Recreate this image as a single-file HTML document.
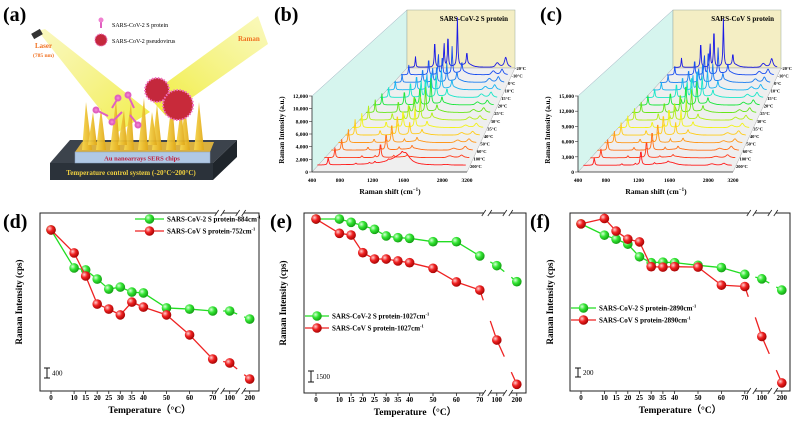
<!DOCTYPE html>
<html><head><meta charset="utf-8"><style>
html,body{margin:0;padding:0;background:#fff;}
svg{display:block;font-family:"Liberation Serif",serif;}
</style></head><body>
<svg id="fig" width="794" height="424" viewBox="0 0 794 424" xmlns="http://www.w3.org/2000/svg">
<defs>
<radialGradient id="gG" cx="0.35" cy="0.35" r="0.7"><stop offset="0" stop-color="#d8ffd8"/><stop offset="0.45" stop-color="#33e633"/><stop offset="1" stop-color="#119911"/></radialGradient>
<radialGradient id="gR" cx="0.35" cy="0.35" r="0.7"><stop offset="0" stop-color="#ffd0d0"/><stop offset="0.45" stop-color="#f02222"/><stop offset="1" stop-color="#a00000"/></radialGradient>
<linearGradient id="beam1" x1="0" y1="0" x2="1" y2="1"><stop offset="0" stop-color="#f4f080" stop-opacity="0.5"/><stop offset="1" stop-color="#f0ec30" stop-opacity="0.9"/></linearGradient>
<linearGradient id="beam2" x1="0" y1="1" x2="1" y2="0"><stop offset="0" stop-color="#eeea20" stop-opacity="0.9"/><stop offset="1" stop-color="#f6f490" stop-opacity="0.6"/></linearGradient>
<linearGradient id="gold" x1="0" y1="0" x2="1" y2="0"><stop offset="0" stop-color="#f8d850"/><stop offset="1" stop-color="#e0a818"/></linearGradient>
</defs>

<g>
<text x="3" y="21" font-size="20" font-weight="bold">(a)</text>
<polygon points="38,31 45,29 150,112 118,132" fill="url(#beam1)"/>
<polygon points="148,96 166,116 268,44 258,16" fill="url(#beam2)"/>
<polygon points="70,140 237,140 213,163 50,163" fill="#3c434c"/>
<polygon points="213,163 237,140 237,157 213,180" fill="#1f252b"/>
<rect x="50" y="163" width="163" height="17" fill="#2b323a"/>
<text x="131" y="175" font-size="7" font-weight="bold" fill="#f0d040" text-anchor="middle">Temperature control system (-20°C~200°C)</text>
<polygon points="82,142 214,142 210,152 75,152" fill="#d9b040"/>
<rect x="75" y="152" width="135" height="11" fill="#b0c8e4" stroke="#8aa0c0" stroke-width="0.5"/>
<text x="142" y="160.5" font-size="6.5" font-weight="bold" fill="#c01a3a" text-anchor="middle">Au nanoarrays SERS chips</text>
<g fill="url(#gold)" opacity="0.95">
<polygon points="82,150 92,150 86,102"/><polygon points="96,150 106,150 101,108"/><polygon points="110,150 120,150 116,100"/><polygon points="124,150 134,150 131,103"/><polygon points="138,150 148,150 144,98"/><polygon points="152,150 162,150 157,104"/><polygon points="166,150 176,150 172,100"/><polygon points="180,150 190,150 185,106"/><polygon points="194,150 204,150 199,102"/>
<polygon points="88,145 97,145 93,112"/><polygon points="118,145 127,145 124,110"/><polygon points="148,145 157,145 152,112"/><polygon points="176,145 185,145 181,108"/>
</g>
<g stroke="#e060c0" stroke-width="2" fill="#f080d0">
<line x1="96" y1="110" x2="108" y2="116"/><circle cx="96" cy="110" r="2.5"/>
<line x1="112" y1="122" x2="122" y2="112"/><circle cx="112" cy="122" r="2.5"/>
<line x1="128" y1="95" x2="134" y2="108"/><circle cx="128" cy="95" r="2.5"/>
<line x1="138" y1="125" x2="130" y2="115"/><circle cx="138" cy="125" r="2.5"/>
<line x1="118" y1="98" x2="112" y2="108"/><circle cx="118" cy="98" r="2.5"/>
</g>
<g>
<circle cx="157" cy="90" r="12" fill="#c4283c" stroke="#f070c0" stroke-width="2" stroke-dasharray="1.5,1.5"/>
<circle cx="178" cy="105" r="15" fill="#c82a3a" stroke="#f070c0" stroke-width="2" stroke-dasharray="1.5,1.5"/>
</g>
<g>
<line x1="101" y1="20" x2="101" y2="28" stroke="#e060c0" stroke-width="2"/><circle cx="101" cy="20" r="2.5" fill="#f080d0"/>
<text x="112" y="27" font-size="6">SARS-CoV-2 S protein</text>
<circle cx="101" cy="40" r="6" fill="#c4283c" stroke="#f070c0" stroke-width="1.2" stroke-dasharray="1,1"/>
<text x="112" y="43" font-size="6">SARS-CoV-2 pseudovirus</text>
</g>
<rect x="32" y="31" width="10" height="6" fill="#333" transform="rotate(-30 37 34)"/>
<text x="35" y="48" font-size="7" font-weight="bold" fill="#f07020">Laser</text>
<text x="33" y="57" font-size="5.5" font-weight="bold" fill="#f07020">(785 nm)</text>
<text x="238" y="41" font-size="7" font-weight="bold" fill="#f07020">Raman</text>
</g>
</svg>
<script>
// ---------- line chart data (d, e, f) ----------
const tempCats = ['0','10','15','20','25','30','35','40','50','60','70','100','200'];
const tempVals = [0,10,15,20,25,30,35,40,50,60,70,100,200];
const dGreen = [5800,4430,4360,4030,3670,3740,3560,3530,2990,2950,2880,2880,2590];
const dRed   = [5800,4970,4140,3130,2950,2740,3200,3020,2740,2020,1150,1010,430];
const eGreen = [22270,22270,21850,21420,20950,20100,19880,19800,19370,19370,17540,16300,14250];
const eRed   = [22270,20440,20220,17960,17150,17150,16900,16680,15960,14210,13180,6780,1110];
const fGreen = [3710,3460,3370,3260,2980,2850,2860,2850,2790,2740,2590,2490,2240];
const fRed   = [3710,3830,3550,3370,3310,2760,2750,2760,2750,2350,2320,1210,180];

// ---------- waterfall data (b, c) ----------
const wfTempLabels = ['200°C','100°C','60°C','50°C','40°C','35°C','30°C','25°C','20°C','15°C','10°C','0°C','-10°C','-20°C'];
const wfXTicks = [400,800,1200,1600,2800,3200];
const bYTicks = [0,2000,4000,6000,8000,10000,12000];
const cYTicks = [0,3000,6000,9000,12000,15000];
const peakPos = [580,960,1130,1200,1380,1560,1600,2850,3050];
const bHeights = [
 [1200,200,200,300,200,300,2000,100,0],
 [1600,300,300,2400,300,300,200,300,400],
 [1800,500,300,2800,400,500,300,300,600],
 [2200,600,400,3200,500,600,300,400,600],
 [2600,800,500,3500,2000,700,300,400,600],
 [2400,1000,600,3000,3200,800,300,400,700],
 [2400,1200,700,2800,3800,900,400,500,700],
 [2200,2000,800,3000,4200,1000,400,500,800],
 [2000,2500,900,3200,4500,1100,400,500,800],
 [1800,2800,3000,3500,3800,1200,400,600,900],
 [1600,2600,2800,3200,3500,1400,500,600,900],
 [1500,2500,2600,3000,3300,1500,500,700,1000],
 [1800,3000,3800,3400,5000,1800,600,700,1000],
 [2000,5000,4500,6000,9000,2200,600,800,1800]
];
const cHeights = [
 [1500,300,300,3000,300,300,600,300,400],
 [1800,400,300,3500,300,400,300,300,600],
 [2200,600,400,4000,500,600,300,400,800],
 [2400,800,500,4200,700,700,300,400,800],
 [2600,1000,600,4500,2500,800,400,500,900],
 [2500,1200,700,4200,3500,900,400,500,900],
 [2500,1500,800,4000,4200,1000,400,600,1000],
 [2300,2200,900,4200,4800,1100,500,600,1000],
 [2100,2800,1000,4500,5000,1200,500,600,1100],
 [1900,3200,3500,4800,4500,1300,500,700,1100],
 [1800,3000,3300,4600,4200,1500,600,700,1200],
 [1700,2900,3100,4400,4000,1600,600,800,1200],
 [2000,3500,4500,5500,6000,2000,700,800,1300],
 [2200,6000,5500,9000,11000,2500,700,900,2000]
];

const NS='http://www.w3.org/2000/svg';
const svg=document.getElementById('fig');
function mk(tag,attrs,parent){const e=document.createElementNS(NS,tag);for(const k in attrs)e.setAttribute(k,attrs[k]);parent.appendChild(e);return e;}
function txt(s,attrs,parent){const e=mk('text',attrs,parent);e.textContent=s;return e;}

// ---------- line panels ----------
const panels=[
 {id:'d',box:[40,213,259,391],x0:51,k:2.31,per:36,green:dGreen,red:dRed,gl:'SARS-CoV-2 S protein-884cm',rl:'SARS-CoV S protein-752cm',lx:135,lx2:158,ly:219,sb:[47,368,378],sbl:'400',ylx:22,plx:3},
 {id:'e',box:[304,213,526,393],x0:316,k:2.34,per:128,green:eGreen,red:eRed,gl:'SARS-CoV-2 S protein-1027cm',rl:'SARS-CoV S protein-1027cm',lx:305,lx2:323,ly:316,sb:[311,371,382],sbl:'1500',ylx:286,plx:270},
 {id:'f',box:[570,213,790,391],x0:581,k:2.34,per:22.2,green:fGreen,red:fRed,gl:'SARS-CoV-2 S protein-2890cm',rl:'SARS-CoV S protein-2890cm',lx:571,lx2:590,ly:308,sb:[578,368,377],sbl:'200',ylx:553,plx:530}
];
panels.forEach(p=>{
 const g=mk('g',{},svg);
 
 
 const [L,T,R,B]=p.box;
 const x70=p.x0+70*p.k;
 const xOf=i=>{const t=tempVals[i];if(t<=70)return p.x0+t*p.k;if(t===100)return x70+17;return x70+37;};
 const yOf=v=>B-v/p.per;
 const brk=[x70+7,x70+28];
 const lab=txt('('+p.id+')',{x:p.plx,y:228,'font-size':20,'font-weight':'bold'},g);
 
 
 const frame=mk('rect',{x:L,y:T,width:R-L,height:B-T,fill:'none',stroke:'#222','stroke-width':1},g);
 
 
 brk.forEach(bx=>{[T,B].forEach(yy=>{
  mk('rect',{x:bx-3,y:yy-2,width:6,height:4,fill:'#fff'},g);
  mk('line',{x1:bx-5,y1:yy+3,x2:bx-1,y2:yy-3,stroke:'#222','stroke-width':0.8},g);
  mk('line',{x1:bx+1,y1:yy+3,x2:bx+5,y2:yy-3,stroke:'#222','stroke-width':0.8},g);
 });});
 tempCats.forEach((c,i)=>{
  const x=xOf(i);
  mk('line',{x1:x,y1:B,x2:x,y2:B+3,stroke:'#222','stroke-width':0.8},g);
  const t=txt(c,{x:x,y:B+9,'font-size':7,'font-weight':'bold','text-anchor':'middle'},g);
  
  
 });
 const xt=txt('Temperature（°C）',{x:(L+R)/2,y:B+22,'font-size':9.5,'font-weight':'bold','text-anchor':'middle'},g);
 
 
 const yt=txt('Raman Intensity (cps)',{x:p.ylx,y:(T+B)/2,'font-size':9,'font-weight':'bold','text-anchor':'middle',transform:'rotate(-90 '+p.ylx+' '+((T+B)/2)+')'},g);
 
 
 const sb=mk('g',{},g);
 
 
 mk('line',{x1:p.sb[0],y1:p.sb[1],x2:p.sb[0],y2:p.sb[2],stroke:'#111','stroke-width':1},sb);
 mk('line',{x1:p.sb[0]-3,y1:p.sb[1],x2:p.sb[0]+3,y2:p.sb[1],stroke:'#111','stroke-width':1},sb);
 mk('line',{x1:p.sb[0]-3,y1:p.sb[2],x2:p.sb[0]+3,y2:p.sb[2],stroke:'#111','stroke-width':1},sb);
 txt(p.sbl,{x:p.sb[0]+5,y:(p.sb[1]+p.sb[2])/2+2.5,'font-size':7},sb);
 [['green',p.green,'#22dd22','url(#gG)'],['red',p.red,'#ee2222','url(#gR)']].forEach(([nm,vals,col,fill])=>{
  const sg=mk('g',{},g);
  
  
  for(let i=0;i<vals.length-1;i++){
   const x1=xOf(i),y1=yOf(vals[i]),x2=xOf(i+1),y2=yOf(vals[i+1]);
   const bx=brk.find(b=>b>x1&&b<x2);
   if(bx===undefined){mk('line',{x1,y1,x2,y2,stroke:col,'stroke-width':1.3},sg);}
   else{
    const yA=y1+(y2-y1)*((bx-3.5-x1)/(x2-x1)),yB=y1+(y2-y1)*((bx+3.5-x1)/(x2-x1));
    mk('line',{x1,y1,x2:bx-3.5,y2:yA,stroke:col,'stroke-width':1.3},sg);
    mk('line',{x1:bx+3.5,y1:yB,x2,y2,stroke:col,'stroke-width':1.3},sg);
   }
  }
  vals.forEach((v,i)=>{
   const c=mk('circle',{cx:xOf(i),cy:yOf(v),r:4.8,fill:fill},sg);
   
   
  });
 });
 [[p.gl,'#22dd22','url(#gG)',0],[p.rl,'#ee2222','url(#gR)',12]].forEach(([label,col,fill,dy],j)=>{
  const lg=mk('g',{},g);
  
  
  const y=p.ly+dy;
  mk('line',{x1:p.lx,y1:y,x2:p.lx2+6,y2:y,stroke:col,'stroke-width':1.3},lg);
  mk('circle',{cx:(p.lx+p.lx2+6)/2,cy:y,r:4.8,fill:fill},lg);
  const t=txt(label,{x:p.lx2+9,y:y+2.5,'font-size':7,'font-weight':'bold'},lg);
  const s=mk('tspan',{'font-size':4.5,dy:-3},t);s.textContent='-1';
 });
});

// ---------- waterfall panels ----------
const wfColors=['#ff1a1a','#ff3a1a','#ff701a','#ff981a','#ffcc1a','#f2f21a','#b4ee1a','#66e61a','#1ae63c','#1ae6c8','#1ab4f0','#1a7cf0','#1a4ef0','#1a1ae6'];
const peakW=[9,9,9,9,10,11,180,50,35];
const knotS=[400,800,1200,1600,2800,3200],knotF=[0,0.18,0.39,0.59,0.84,1.0];
function frac(s){for(let i=0;i<knotS.length-1;i++){if(s<=knotS[i+1])return knotF[i]+(knotF[i+1]-knotF[i])*(s-knotS[i])/(knotS[i+1]-knotS[i]);}return 1;}
function waterfall(id,ox,yTicks,ymax,heights,title){
 const g=mk('g',{},svg);
 
 
 const lab=txt('('+id+')',{x:274+ox,y:21,'font-size':20,'font-weight':'bold'},g);
 
 
 const lw=mk('polygon',{points:`${312+ox},96 ${407+ox},10 ${407+ox},68 ${312+ox},172`,fill:'#d6f5ee',stroke:'#9ab','stroke-width':0.5},g);
 
 
 const bw=mk('rect',{x:407+ox,y:10,width:108,height:58,fill:'#f4eec4',stroke:'#9a9','stroke-width':0.5},g);
 
 
 const fl=mk('polygon',{points:`${312+ox},172 ${467+ox},172 ${515+ox},68 ${407+ox},68`,fill:'#efefef',stroke:'#aaa','stroke-width':0.5},g);
 
 
 const tt=txt(title,{x:508+ox,y:21,'font-size':7,'font-weight':'bold','text-anchor':'end'},g);
 
 
 mk('line',{x1:312+ox,y1:96,x2:312+ox,y2:172,stroke:'#333','stroke-width':0.8},g);
 mk('line',{x1:312+ox,y1:172,x2:467+ox,y2:172,stroke:'#333','stroke-width':0.8},g);
 yTicks.forEach(v=>{
  const y=172-76*v/ymax;
  mk('line',{x1:309+ox,y1:y,x2:312+ox,y2:y,stroke:'#333','stroke-width':0.6},g);
  const t=txt(v.toLocaleString('en-US'),{x:308+ox,y:y+2,'font-size':5.5,'font-weight':'bold','text-anchor':'end'},g);
  
  
 });
 wfXTicks.forEach(s=>{
  const x=312+ox+155*frac(s);
  const t=txt(String(s),{x:x,y:182,'font-size':5.5,'font-weight':'bold','text-anchor':'middle'},g);
  
  
 });
 const xt=txt('Raman shift (cm',{x:390+ox,y:194,'font-size':7.5,'font-weight':'bold','text-anchor':'middle'},g);
 const sp=mk('tspan',{'font-size':5,dy:-3},xt);sp.textContent='−1';
 const sp2=mk('tspan',{dy:3},xt);sp2.textContent=')';
 
 
 const yt=txt('Raman Intensity (a.u.)',{x:284+ox,y:130,'font-size':7,'font-weight':'bold','text-anchor':'middle',transform:`rotate(-90 ${284+ox} 130)`},g);
 
 
 for(let i=heights.length-1;i>=0;i--){
  const t=i/13,yb=166-98*t,xl=316+ox+91*t,xr=467+ox+45*t,hs=(76/ymax)*(1-0.15*t);
  let d='';
  for(let s=420;s<=3180;s+=8){
   let v=120;
   heights[i].forEach((h,k)=>{const w=peakW[k];v+=h/(1+((s-peakPos[k])/w)**2);});
   const x=xl+(xr-xl)*frac(s),y=yb-v*hs;
   d+=(d?'L':'M')+x.toFixed(1)+','+y.toFixed(1);
  }
  const path=mk('path',{d:d,fill:'none',stroke:wfColors[i],'stroke-width':0.9},g);
  
  
  const tl=txt(wfTempLabels[i],{x:xr+3,y:yb+2,'font-size':4.5,'font-weight':'bold'},g);
  
  
 }
}
waterfall('b',0,bYTicks,12000,bHeights,'SARS-CoV-2 S protein');
waterfall('c',266,cYTicks,15000,cHeights,'SARS-CoV S protein');
</script>
</body></html>
